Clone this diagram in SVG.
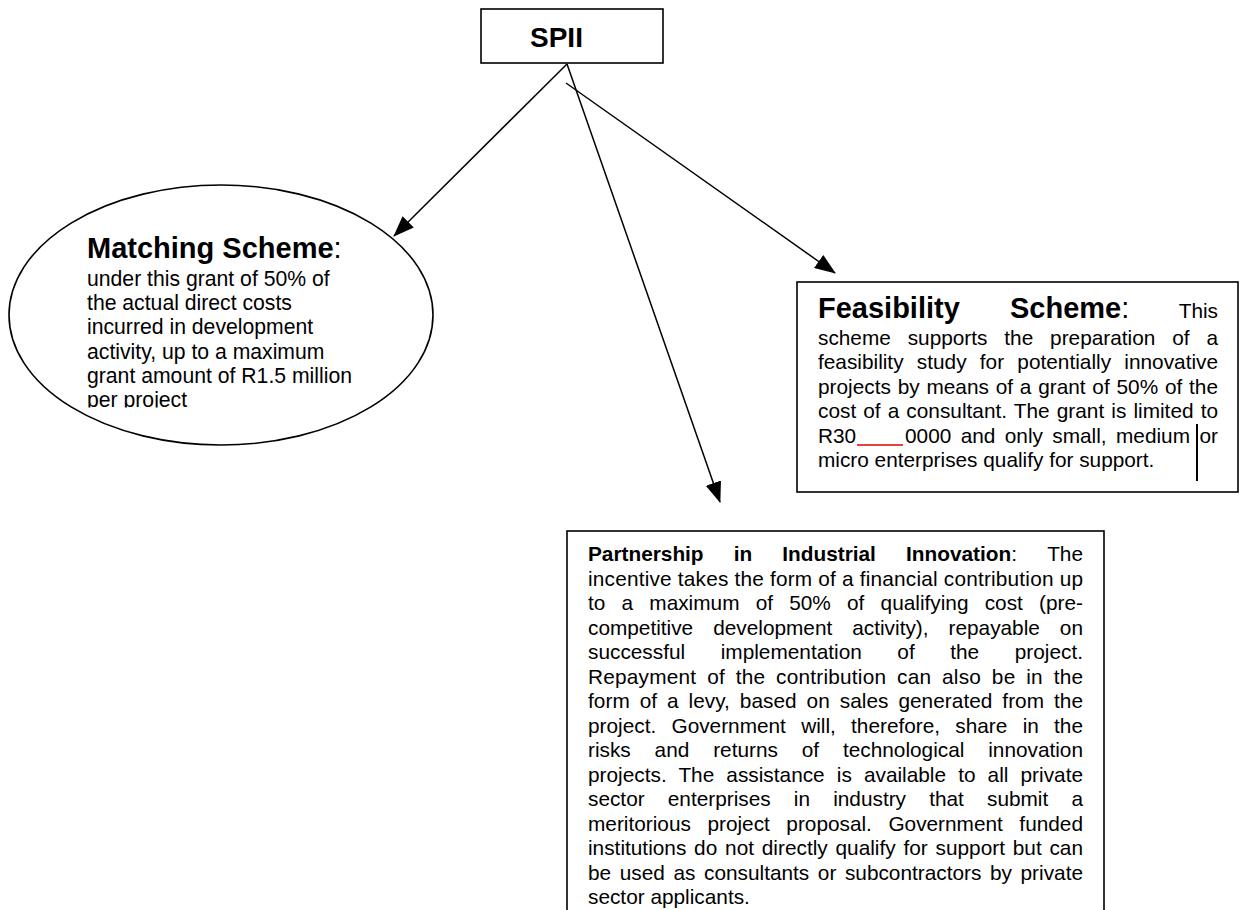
<svg xmlns="http://www.w3.org/2000/svg" width="1240" height="910" viewBox="0 0 1240 910">
<style>
.t{font-family:"Liberation Sans",Arial,sans-serif;font-size:20.8px;fill:#000}
.m{font-family:"Liberation Sans",Arial,sans-serif;font-size:21.2px;fill:#000}
.b{font-weight:bold}
.h{font-family:"Liberation Sans",Arial,sans-serif;font-size:29px;font-weight:bold;fill:#000}
.hc{font-family:"Liberation Sans",Arial,sans-serif;font-size:29px;fill:#000}
.box{fill:#fff;stroke:#000;stroke-width:1.6}
.conn line{stroke:#000;stroke-width:1.5;marker-end:url(#ah)}
</style>
<defs>
<marker id="ah" markerUnits="userSpaceOnUse" markerWidth="21" markerHeight="16" viewBox="0 0 21 16" refX="20" refY="8" orient="auto">
<path d="M0,0 L21,8 L0,16 z" fill="#000"/>
</marker>
<clipPath id="mclip"><rect x="0" y="0" width="440" height="407.5"/></clipPath>
</defs>

<g id="connectors" class="conn">
<line x1="567" y1="64" x2="394" y2="236"/>
<line x1="567" y1="64" x2="720" y2="502"/>
<line x1="566" y1="83" x2="835" y2="273"/>
</g>

<g id="spii">
<rect class="box" x="481" y="9" width="182" height="54"/>
<text class="h" x="530" y="47" style="font-size:28px">SPII</text>
</g>

<g id="matching">
<ellipse class="box" cx="221" cy="315" rx="212" ry="130"/>
<g clip-path="url(#mclip)">
<text class="h" x="87" y="258">Matching Scheme<tspan class="hc" style="font-weight:normal">:</tspan></text>
<text class="m" x="87" y="285.7">under this grant of 50% of</text>
<text class="m" x="87" y="310">the actual direct costs</text>
<text class="m" x="87" y="334.3">incurred in development</text>
<text class="m" x="87" y="358.5">activity, up to a maximum</text>
<text class="m" x="87" y="382.8">grant amount of R1.5 million</text>
<text class="m" x="87" y="407">per project</text>
</g>
</g>

<g id="feasibility">
<rect class="box" x="797" y="282" width="441" height="210"/>
<text class="h" x="818" y="318">Feasibility</text>
<text class="h" x="1010" y="318">Scheme<tspan style="font-weight:normal">:</tspan></text>
<text class="t" x="1218" y="318" text-anchor="end">This</text>
<text class="t" x="818" y="345" style="word-spacing:11.1px" textLength="400" lengthAdjust="spacing">scheme supports the preparation of a</text>
<text class="t" x="818" y="369.4" style="word-spacing:7.5px" textLength="400" lengthAdjust="spacing">feasibility study for potentially innovative</text>
<text class="t" x="818" y="393.8" style="word-spacing:1px" textLength="400" lengthAdjust="spacing">projects by means of a grant of 50% of the</text>
<text class="t" x="818" y="418.2" style="word-spacing:1.3px" textLength="400" lengthAdjust="spacing">cost of a consultant. The grant is limited to</text>
<text class="t" x="818" y="442.6">R30</text>
<line x1="857" y1="445" x2="903" y2="445" stroke="#e00000" stroke-width="1.5"/>
<text class="t" x="905" y="442.6" style="word-spacing:3.6px" textLength="285" lengthAdjust="spacing">0000 and only small, medium</text>
<text class="t" x="1218" y="442.6" text-anchor="end">or</text>
<line x1="1197" y1="424" x2="1197" y2="481" stroke="#000" stroke-width="2"/>
<text class="t" x="818" y="467">micro enterprises qualify for support.</text>
</g>

<g id="partnership">
<rect class="box" x="567" y="531" width="537" height="400"/>
<text class="t b" x="588" y="561">Partnership</text>
<text class="t b" x="733.7" y="561">in</text>
<text class="t b" x="782.3" y="561">Industrial</text>
<text class="t" x="906" y="561"><tspan class="b">Innovation</tspan>:</text>
<text class="t" x="1083" y="561" text-anchor="end">The</text>
<text class="t" x="588" y="585.5" textLength="495" lengthAdjust="spacing">incentive takes the form of a financial contribution up</text>
<text class="t" x="588" y="610" style="word-spacing:10.4px" textLength="495" lengthAdjust="spacing">to a maximum of 50% of qualifying cost (pre-</text>
<text class="t" x="588" y="634.5" style="word-spacing:14.2px" textLength="495" lengthAdjust="spacing">competitive development activity), repayable on</text>
<text class="t" x="588" y="659" style="word-spacing:29.8px" textLength="495" lengthAdjust="spacing">successful implementation of the project.</text>
<text class="t" x="588" y="683.5" style="word-spacing:4.8px" textLength="495" lengthAdjust="spacing">Repayment of the contribution can also be in the</text>
<text class="t" x="588" y="708" style="word-spacing:4.1px" textLength="495" lengthAdjust="spacing">form of a levy, based on sales generated from the</text>
<text class="t" x="588" y="732.5" style="word-spacing:9.5px" textLength="495" lengthAdjust="spacing">project. Government will, therefore, share in the</text>
<text class="t" x="588" y="757" style="word-spacing:18.1px" textLength="495" lengthAdjust="spacing">risks and returns of technological innovation</text>
<text class="t" x="588" y="781.5" style="word-spacing:6.3px" textLength="495" lengthAdjust="spacing">projects. The assistance is available to all private</text>
<text class="t" x="588" y="806" style="word-spacing:17.4px" textLength="495" lengthAdjust="spacing">sector enterprises in industry that submit a</text>
<text class="t" x="588" y="830.5" style="word-spacing:10.75px" textLength="495" lengthAdjust="spacing">meritorious project proposal. Government funded</text>
<text class="t" x="588" y="855" style="word-spacing:2px" textLength="495" lengthAdjust="spacing">institutions do not directly qualify for support but can</text>
<text class="t" x="588" y="879.5" style="word-spacing:2.8px" textLength="495" lengthAdjust="spacing">be used as consultants or subcontractors by private</text>
<text class="t" x="588" y="904">sector applicants.</text>
</g>
</svg>
